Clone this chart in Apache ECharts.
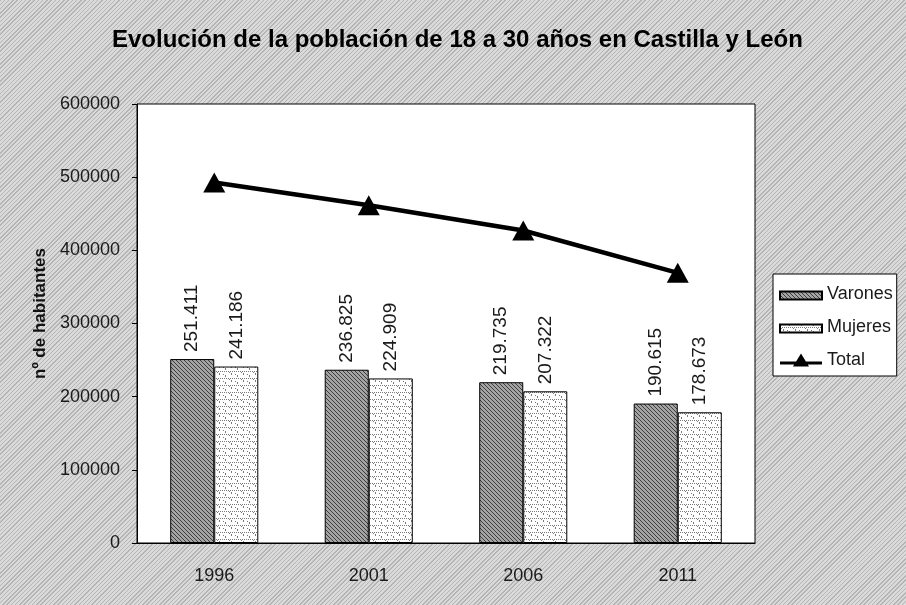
<!DOCTYPE html>
<html>
<head>
<meta charset="utf-8">
<script src="https://cdn.jsdelivr.net/npm/echarts@6/dist/echarts.min.js"></script>
<style>
  html, body { margin: 0; padding: 0; }
  #chart {
    width: 906px;
    height: 605px;
    background: repeating-linear-gradient(135deg, #b4b4b4 0px, #b4b4b4 1px, #dadada 1px, #dadada 3px);
  }
</style>
</head>
<body>
<div id="chart"></div>
<script>
const years = ['1996', '2001', '2006', '2011']
const varones = [251411, 236825, 219735, 190615]
const mujeres = [241186, 224909, 207322, 178673]
const total = [492597, 461734, 427057, 369288]
const yTicks = [0, 100000, 200000, 300000, 400000, 500000, 600000]

// hatch fill for Varones
function makeHatch() {
  const c = document.createElement('canvas')
  c.width = 4
  c.height = 4
  const ctx = c.getContext('2d')
  ctx.fillStyle = '#a4a4a4'
  ctx.fillRect(0, 0, 4, 4)
  ctx.fillStyle = '#3c3c3c'
  for (let i = 0; i < 4; i++) ctx.fillRect(i, i, 1, 1)
  return c
}

// brick-like fill for Mujeres
function makeBrick() {
  const c = document.createElement('canvas')
  c.width = 12
  c.height = 7
  const ctx = c.getContext('2d')
  ctx.fillStyle = '#ffffff'
  ctx.fillRect(0, 0, 12, 7)
  ctx.fillStyle = '#7a7a7a'
  for (let x = 0; x < 12; x += 2) ctx.fillRect(x, 0, 1, 1)
  ctx.fillRect(1, 1, 1, 1)
  ctx.fillRect(3, 2, 1, 2)
  ctx.fillRect(9, 4, 1, 2)
  ctx.fillRect(7, 3, 1, 1)
  return c
}

const hatch = { image: makeHatch(), repeat: 'repeat' }
const brick = { image: makeBrick(), repeat: 'repeat' }

const fmt = (v) => String(v).replace(/\B(?=(\d{3})+(?!\d))/g, '.')

const barLabel = {
  show: true,
  position: 'top',
  rotate: 90,
  align: 'left',
  verticalAlign: 'middle',
  distance: 7,
  fontFamily: 'Arial, Liberation Sans',
  fontSize: 19,
  color: '#1a1a1a',
  formatter: (p) => fmt(p.value)
}

// legend icons (first moveTo keeps the box height)
const rectIcon = 'path://M0,0 M0,3 L42,3 L42,11 L0,11 Z'
const lineIcon = 'path://M0,8 L16.1,8 L21,0 L25.9,8 L42,8 L42,11 L27.8,11 L29,13 L13,13 L14.2,11 L0,11 Z'

const myChart = echarts.init(document.getElementById('chart'))
myChart.setOption({
  animation: false,
  backgroundColor: 'transparent',
  textStyle: { fontFamily: 'Arial, Liberation Sans' },
  title: {
    text: 'Evolución de la población de 18 a 30 años en Castilla y León',
    left: 107,
    top: 23,
    textStyle: { fontSize: 24, fontWeight: 'bold', color: '#000' }
  },
  legend: {
    orient: 'vertical',
    left: 773,
    top: 274,
    backgroundColor: '#fff',
    borderColor: '#000',
    borderWidth: 1,
    borderRadius: 0,
    padding: [11, 4, 7, 6],
    itemWidth: 42,
    itemHeight: 14,
    itemGap: 15,
    textStyle: { fontSize: 18, color: '#1a1a1a' },
    data: [
      { name: 'Varones', icon: rectIcon },
      { name: 'Mujeres', icon: rectIcon },
      { name: 'Total', icon: lineIcon, itemStyle: { color: '#000', borderWidth: 0 } }
    ]
  },
  grid: {
    left: 137,
    right: 151,
    top: 104,
    bottom: 62,
    show: true,
    backgroundColor: '#fff',
    borderColor: '#000',
    borderWidth: 1
  },
  xAxis: {
    type: 'category',
    data: years,
    axisLine: { lineStyle: { color: '#000' } },
    axisTick: { inside: true, length: 3, lineStyle: { color: '#000' } },
    axisLabel: { fontSize: 18, color: '#1a1a1a', margin: 24 }
  },
  yAxis: {
    type: 'value',
    min: yTicks[0],
    max: yTicks[yTicks.length - 1],
    interval: 100000,
    name: 'nº de habitantes',
    nameLocation: 'middle',
    nameGap: 83,
    nameTextStyle: { fontSize: 17, fontWeight: 'bold', color: '#111', padding: [0, 0, 0, 20] },
    axisLine: { show: true, lineStyle: { color: '#000' } },
    axisTick: { show: true, length: 5, lineStyle: { color: '#000' } },
    splitLine: { show: false },
    axisLabel: { fontSize: 18, color: '#1a1a1a', margin: 17, formatter: (v) => String(v) }
  },
  series: [
    {
      name: 'Varones',
      type: 'bar',
      data: varones,
      barGap: '0%',
      barCategoryGap: '43%',
      itemStyle: { color: hatch, borderColor: '#000', borderWidth: 1 },
      label: barLabel
    },
    {
      name: 'Mujeres',
      type: 'bar',
      data: mujeres,
      itemStyle: { color: brick, borderColor: '#000', borderWidth: 1 },
      label: barLabel
    },
    {
      name: 'Total',
      type: 'line',
      data: total,
      symbol: 'triangle',
      symbolSize: [22, 20],
      lineStyle: { color: '#000', width: 4.5 },
      itemStyle: { color: '#000' },
      z: 5
    }
  ]
})
</script>
</body>
</html>
